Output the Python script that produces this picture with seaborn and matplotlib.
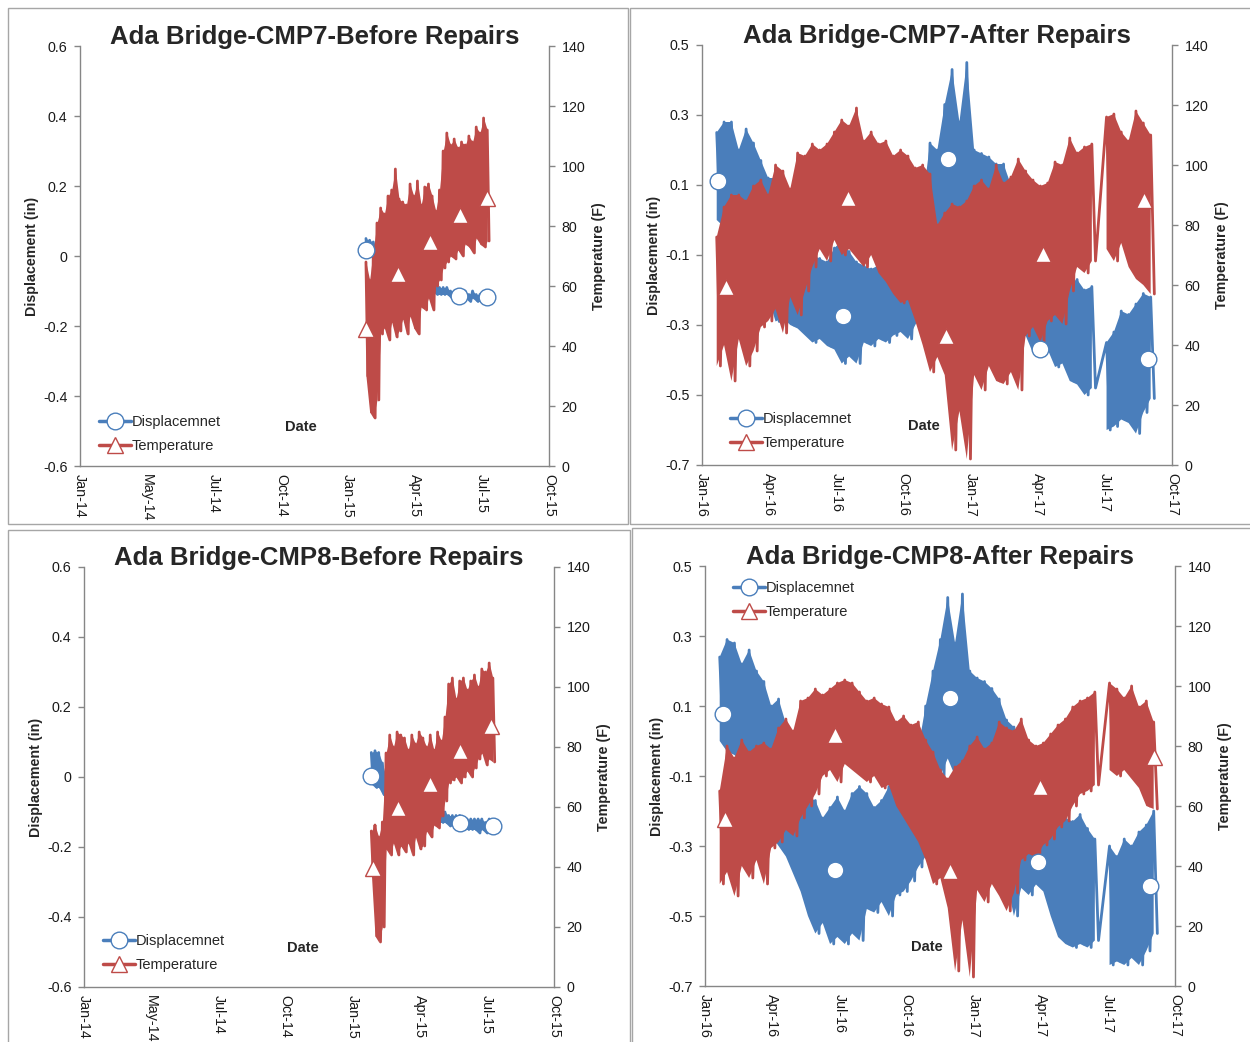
import numpy as np
import pandas as pd
import matplotlib
matplotlib.use("Agg")
import matplotlib.pyplot as plt
import matplotlib.dates as mdates
from matplotlib.lines import Line2D
from matplotlib.patches import Rectangle
import seaborn as sns

sns.set_style("white")
plt.rcParams['font.family'] = ['Liberation Sans', 'DejaVu Sans']
plt.rcParams['axes.unicode_minus'] = False

BLUE = "#4a7ebb"
RED = "#be4b48"
GRAY = "#868686"
nan = np.nan

# ---- axis labels / ticks
before_xlabels = ["Jan-14", "May-14", "Jul-14", "Oct-14", "Jan-15", "Apr-15", "Jul-15", "Oct-15"]
after_xlabels = ["Jan-16", "Apr-16", "Jul-16", "Oct-16", "Jan-17", "Apr-17", "Jul-17", "Oct-17"]
before_disp_ticks = [-0.6, -0.4, -0.2, 0, 0.2, 0.4, 0.6]
after_disp_ticks = [-0.7, -0.5, -0.3, -0.1, 0.1, 0.3, 0.5]
temp_ticks = [0, 20, 40, 60, 80, 100, 120, 140]

# ---- CMP7 before repairs (5-day bins from 2015-01-25, high / low readings)
cmp7_before_start = "2015-01-25"
cmp7_before_disp_hi = [0.05, 0.045, 0.04, 0.02, 0.0, -0.01, -0.02, -0.02, -0.03, -0.03,
                       -0.04, -0.04, -0.05, -0.05, -0.06, -0.07, -0.07, -0.08, -0.08, -0.08,
                       -0.09, -0.09, -0.09, -0.10, -0.10, -0.10, -0.10, -0.10, -0.11, -0.10,
                       -0.11, -0.11, -0.11, -0.11]
cmp7_before_disp_lo = [0.0, 0.01, 0.0, -0.03, -0.05, -0.06, -0.06, -0.07, -0.07, -0.08,
                       -0.08, -0.08, -0.09, -0.09, -0.09, -0.10, -0.10, -0.10, -0.10, -0.11,
                       -0.11, -0.11, -0.11, -0.12, -0.12, -0.12, -0.13, -0.12, -0.13, -0.12,
                       -0.13, -0.13, -0.13, -0.13]
cmp7_before_temp_hi = [68, 62, 72, 81, 86, 84, 90, 92, 99, 89,
                       88, 87, 94, 90, 95, 87, 93, 94, 90, 85,
                       92, 105, 111, 107, 109, 106, 108, 107, 110, 108,
                       113, 111, 116, 112]
cmp7_before_temp_lo = [30, 18, 16, 22, 44, 46, 42, 48, 43, 45,
                       49, 44, 50, 46, 44, 53, 52, 56, 52, 60,
                       62, 66, 68, 70, 69, 72, 70, 74, 73, 71,
                       76, 74, 73, 75]
cmp7_before_disp_mark_dates = ["2015-01-25", "2015-05-31", "2015-07-08"]
cmp7_before_disp_mark_vals = [0.017, -0.114, -0.117]
cmp7_before_temp_mark_dates = ["2015-01-25", "2015-03-09", "2015-04-22", "2015-06-02", "2015-07-08"]
cmp7_before_temp_mark_vals = [45.7, 64, 74.7, 83.7, 89.3]

# ---- CMP7 after repairs (10-day bins from 2016-01-21)
cmp7_after_start = "2016-01-21"
cmp7_after_disp_hi = [0.25, 0.28, 0.28, 0.20, 0.26, 0.22, 0.17, 0.12, 0.12, 0.10,
                      0.04, -0.14, -0.12, -0.10, -0.11, -0.12, -0.08, -0.06, -0.09, -0.12,
                      -0.13, -0.14, -0.13, -0.15, -0.18, -0.16, -0.14, -0.12, 0.05, 0.22,
                      0.20, 0.33, 0.43, 0.28, 0.45, 0.20, 0.19, 0.18, 0.16, 0.16,
                      0.10, 0.0, -0.22, -0.24, -0.25, -0.26, -0.22, -0.22, -0.18, -0.17,
                      -0.20, -0.19, nan, -0.35, -0.32, -0.26, -0.27, -0.24, -0.21, -0.22]
cmp7_after_disp_lo = [0.0, -0.02, -0.05, -0.08, -0.10, -0.14, -0.18, -0.22, -0.29, -0.28,
                      -0.30, -0.31, -0.33, -0.35, -0.34, -0.36, -0.37, -0.41, -0.39, -0.41,
                      -0.35, -0.36, -0.34, -0.35, -0.33, -0.32, -0.34, -0.30, -0.26, -0.20,
                      -0.05, 0.0, 0.02, -0.08, -0.05, -0.10, -0.12, -0.15, -0.18, -0.20,
                      -0.25, -0.38, -0.33, -0.38, -0.36, -0.37, -0.42, -0.41, -0.46, -0.47,
                      -0.50, -0.48, nan, -0.60, -0.59, -0.57, -0.58, -0.61, -0.55, -0.51]
cmp7_after_temp_hi = [76, 86, 90, 90, 88, 93, 95, 90, 100, 98,
                      92, 104, 103, 107, 105, 107, 111, 115, 113, 119,
                      108, 111, 107, 108, 103, 105, 103, 99, 100, 97,
                      80, 84, 87, 86, 88, 93, 95, 92, 100, 94,
                      96, 102, 98, 95, 93, 94, 101, 100, 109, 104,
                      106, 107, nan, 116, 117, 111, 108, 118, 114, 110]
cmp7_after_temp_lo = [33, 40, 28, 42, 33, 38, 46, 48, 52, 44,
                      56, 50, 58, 66, 72, 68, 75, 70, 72, 69,
                      66, 70, 64, 61, 57, 54, 55, 48, 40, 31,
                      36, 30, 5, 18, 2, 30, 25, 33, 28, 27,
                      31, 25, 43, 46, 41, 48, 50, 47, 58, 66,
                      64, 68, nan, 72, 68, 74, 66, 62, 60, 57]
cmp7_after_disp_mark_dates = ["2016-01-23", "2016-07-11", "2016-11-30", "2017-04-04", "2017-08-30"]
cmp7_after_disp_mark_vals = [0.111, -0.274, 0.174, -0.369, -0.397]
cmp7_after_temp_mark_dates = ["2016-02-03", "2016-07-18", "2016-11-28", "2017-04-08", "2017-08-24"]
cmp7_after_temp_mark_vals = [59.3, 89, 43, 70.3, 88.3]

# ---- CMP8 before repairs (5-day bins from 2015-01-26)
cmp8_before_start = "2015-01-26"
cmp8_before_disp_hi = [0.07, 0.075, 0.07, 0.04, 0.0, -0.02, -0.04, -0.05, -0.06, -0.07,
                       -0.07, -0.08, -0.08, -0.09, -0.09, -0.09, -0.10, -0.10, -0.10, -0.10,
                       -0.10, -0.11, -0.11, -0.11, -0.11, -0.12, -0.12, -0.12, -0.12, -0.12,
                       -0.12, -0.13, -0.12, -0.13]
cmp8_before_disp_lo = [-0.02, -0.03, -0.03, -0.05, -0.06, -0.07, -0.08, -0.09, -0.09, -0.10,
                       -0.10, -0.11, -0.11, -0.12, -0.12, -0.12, -0.12, -0.13, -0.13, -0.13,
                       -0.13, -0.14, -0.14, -0.14, -0.14, -0.15, -0.15, -0.15, -0.15, -0.16,
                       -0.15, -0.16, -0.16, -0.16]
cmp8_before_temp_hi = [52, 54, 50, 55, 78, 84, 80, 85, 84, 83,
                       79, 84, 81, 85, 83, 80, 84, 79, 85, 82,
                       90, 101, 103, 96, 102, 103, 99, 102, 104, 100,
                       106, 105, 108, 103]
cmp8_before_temp_lo = [38, 17, 15, 20, 46, 44, 48, 44, 47, 45,
                       48, 44, 50, 46, 47, 52, 50, 54, 53, 57,
                       62, 68, 69, 70, 68, 70, 72, 70, 73, 76,
                       78, 74, 76, 75]
cmp8_before_disp_mark_dates = ["2015-01-26", "2015-05-27", "2015-07-10"]
cmp8_before_disp_mark_vals = [0.003, -0.131, -0.14]
cmp8_before_temp_mark_dates = ["2015-01-28", "2015-03-03", "2015-04-15", "2015-05-27", "2015-07-07"]
cmp8_before_temp_mark_vals = [39.7, 59.7, 67.7, 78.7, 87]

# ---- CMP8 after repairs (10-day bins from 2016-01-21)
cmp8_after_start = "2016-01-21"
cmp8_after_disp_hi = [0.24, 0.29, 0.28, 0.22, 0.26, 0.20, 0.17, 0.10, 0.12, 0.05,
                      -0.08, -0.14, -0.16, -0.17, -0.22, -0.19, -0.16, -0.20, -0.15, -0.13,
                      -0.15, -0.19, -0.17, -0.13, -0.10, -0.08, -0.06, -0.02, 0.10, 0.20,
                      0.29, 0.41, 0.28, 0.42, 0.20, 0.18, 0.17, 0.15, 0.12, 0.06,
                      0.04, -0.02, -0.01, -0.04, -0.08, -0.14, -0.20, -0.22, -0.23, -0.21,
                      -0.25, -0.28, nan, -0.30, -0.33, -0.28, -0.30, -0.26, -0.24, -0.20]
cmp8_after_disp_lo = [0.0, -0.03, -0.04, -0.06, -0.10, -0.16, -0.20, -0.27, -0.30, -0.33,
                      -0.38, -0.43, -0.50, -0.55, -0.52, -0.58, -0.56, -0.58, -0.55, -0.57,
                      -0.48, -0.49, -0.46, -0.50, -0.44, -0.43, -0.40, -0.36, -0.33, -0.20,
                      -0.10, -0.05, -0.10, -0.14, -0.12, -0.20, -0.22, -0.28, -0.35, -0.40,
                      -0.50, -0.42, -0.44, -0.41, -0.43, -0.50, -0.56, -0.58, -0.59, -0.58,
                      -0.59, -0.57, nan, -0.64, -0.63, -0.64, -0.62, -0.64, -0.60, -0.55]
cmp8_after_temp_hi = [65, 80, 76, 82, 78, 80, 81, 79, 86, 89,
                      85, 95, 96, 99, 97, 99, 101, 102, 101, 98,
                      95, 96, 94, 93, 88, 90, 87, 88, 82, 78,
                      72, 69, 73, 75, 80, 83, 79, 81, 88, 86,
                      85, 89, 82, 80, 81, 84, 87, 89, 93, 95,
                      96, 98, nan, 101, 99, 96, 100, 93, 95, 88]
cmp8_after_temp_lo = [34, 38, 30, 40, 36, 42, 34, 46, 48, 52,
                      50, 56, 60, 64, 70, 72, 68, 74, 72, 70,
                      68, 70, 66, 67, 60, 56, 52, 48, 42, 34,
                      36, 26, 5, 22, 3, 32, 28, 34, 30, 25,
                      31, 42, 44, 43, 47, 49, 53, 55, 60, 64,
                      65, 67, nan, 72, 70, 72, 69, 66, 60, 59]
cmp8_after_disp_mark_dates = ["2016-01-25", "2016-06-26", "2016-11-29", "2017-03-29", "2017-08-28"]
cmp8_after_disp_mark_vals = [0.077, -0.369, 0.123, -0.346, -0.414]
cmp8_after_temp_mark_dates = ["2016-01-28", "2016-06-26", "2016-11-29", "2017-04-01", "2017-09-03"]
cmp8_after_temp_mark_vals = [55.7, 83.7, 38.3, 66.3, 76.3]


def bins(start, step_days, hi, lo):
    dates = pd.date_range(start, periods=len(hi), freq=pd.Timedelta(days=step_days))
    return pd.DataFrame({"date": dates, "hi": hi, "lo": lo})


def zigzag(b, step_days):
    # high reading at the start of each bin, low reading half a bin later
    half = pd.Timedelta(hours=12 * step_days)
    df = pd.concat([
        pd.DataFrame({"date": b["date"], "value": b["hi"], "k": 0}),
        pd.DataFrame({"date": b["date"] + half, "value": b["lo"], "k": 1}),
    ]).sort_values(["date", "k"])
    return df.dropna()


def draw_series(ax, b, step_days, color):
    ax.fill_between(b["date"], b["lo"], b["hi"], color=color, lw=0)
    sns.lineplot(data=zigzag(b, step_days), x="date", y="value", ax=ax, color=color, lw=2.0,
                 estimator=None, sort=False)


def draw_panel(fig, rect, frame, title, xlim, xlabels, disp_ticks, disp_b, temp_b, step_days,
               disp_marks, temp_marks, leg_loc, leg_anchor, date_xy):
    fig.add_artist(Rectangle((frame[0], frame[1]), frame[2], frame[3], transform=fig.transFigure,
                             fill=False, ec="#a6a6a6", lw=1))
    ax = fig.add_axes(rect)
    ax2 = ax.twinx()

    draw_series(ax, disp_b, step_days, BLUE)
    draw_series(ax2, temp_b, step_days, RED)

    # markers on top of both lines
    ax2.plot(pd.to_datetime(disp_marks[0]), disp_marks[1], ls="none", marker="o", ms=12,
             mfc="white", mec=BLUE, mew=1, transform=ax.transData, zorder=5)
    ax2.plot(pd.to_datetime(temp_marks[0]), temp_marks[1], ls="none", marker="^", ms=12,
             mfc="white", mec=RED, mew=1, zorder=5)

    x0 = mdates.date2num(pd.Timestamp(xlim[0]))
    x1 = mdates.date2num(pd.Timestamp(xlim[1]))
    ax.set_xlim(x0, x1)
    ax.set_xticks(np.linspace(x0, x1, len(xlabels)))
    ax.set_xticklabels(xlabels, rotation=-90)

    ax.set_ylim(disp_ticks[0], disp_ticks[-1])
    ax.set_yticks(disp_ticks)
    ax.set_yticklabels([f"{v:g}" for v in disp_ticks])
    ax2.set_ylim(temp_ticks[0], temp_ticks[-1])
    ax2.set_yticks(temp_ticks)

    for a in (ax, ax2):
        for s in a.spines.values():
            s.set_color(GRAY)
            s.set_linewidth(1)
        a.spines["top"].set_visible(False)
        a.tick_params(direction="out", length=4, width=1, color=GRAY, labelsize=10.3,
                      labelcolor="#1a1a1a", pad=2)
    ax.spines["right"].set_visible(False)
    ax2.spines["left"].set_visible(False)
    ax2.spines["bottom"].set_visible(False)
    ax.tick_params(axis="y", pad=5)
    ax2.tick_params(axis="y", pad=5)

    ax.set_ylabel("Displacement (in)", fontsize=10.3, fontweight="bold")
    ax.yaxis.set_label_coords(-0.088, 0.5)
    ax2.set_ylabel("Temperature (F)", fontsize=10.3, fontweight="bold")
    ax2.yaxis.set_label_coords(1.092, 0.5)
    ax.set_xlabel("Date", fontsize=10.5, fontweight="bold")
    ax.xaxis.set_label_coords(date_xy[0], date_xy[1])

    # fixed y so the title is not pushed up above the top tick labels
    ax.set_title(title, fontsize=18.5, fontweight="bold", y=1.0, pad=1.5)

    handles = [
        Line2D([0], [0], color=BLUE, lw=2.5, marker="o", ms=12, mfc="white", mec=BLUE, mew=1),
        Line2D([0], [0], color=RED, lw=2.5, marker="^", ms=12, mfc="white", mec=RED, mew=1),
    ]
    ax2.legend(handles, ["Displacemnet", "Temperature"], loc=leg_loc, bbox_to_anchor=leg_anchor,
               frameon=False, fontsize=10.5, handlelength=2.2, handletextpad=0.05,
               labelspacing=0.7, borderaxespad=0, borderpad=0)


W, H = 1250, 1042
fig = plt.figure(figsize=(W / 100, H / 100), dpi=100)


def fr(x0, y0, x1, y1):
    # pixel box (top-left origin) to figure fraction rect
    return [x0 / W, (H - y1) / H, (x1 - x0) / W, (y1 - y0) / H]


draw_panel(fig, fr(80, 46, 549, 466), fr(8, 8, 628, 524), "Ada Bridge-CMP7-Before Repairs",
           ("2014-01-01", "2015-10-01"), before_xlabels, before_disp_ticks,
           bins(cmp7_before_start, 5, cmp7_before_disp_hi, cmp7_before_disp_lo),
           bins(cmp7_before_start, 5, cmp7_before_temp_hi, cmp7_before_temp_lo), 5,
           (cmp7_before_disp_mark_dates, cmp7_before_disp_mark_vals),
           (cmp7_before_temp_mark_dates, cmp7_before_temp_mark_vals),
           "lower left", (0.04, 0.03), (0.47, 0.11))

draw_panel(fig, fr(702, 45, 1172, 465), fr(630, 8, 1252, 524), "Ada Bridge-CMP7-After Repairs",
           ("2016-01-01", "2017-10-01"), after_xlabels, after_disp_ticks,
           bins(cmp7_after_start, 10, cmp7_after_disp_hi, cmp7_after_disp_lo),
           bins(cmp7_after_start, 10, cmp7_after_temp_hi, cmp7_after_temp_lo), 10,
           (cmp7_after_disp_mark_dates, cmp7_after_disp_mark_vals),
           (cmp7_after_temp_mark_dates, cmp7_after_temp_mark_vals),
           "lower left", (0.06, 0.035), (0.472, 0.11))

draw_panel(fig, fr(84, 567, 554, 987), fr(8, 530, 630, 1044), "Ada Bridge-CMP8-Before Repairs",
           ("2014-01-01", "2015-10-01"), before_xlabels, before_disp_ticks,
           bins(cmp8_before_start, 5, cmp8_before_disp_hi, cmp8_before_disp_lo),
           bins(cmp8_before_start, 5, cmp8_before_temp_hi, cmp8_before_temp_lo), 5,
           (cmp8_before_disp_mark_dates, cmp8_before_disp_mark_vals),
           (cmp8_before_temp_mark_dates, cmp8_before_temp_mark_vals),
           "lower left", (0.04, 0.035), (0.466, 0.11))

draw_panel(fig, fr(705, 566, 1175, 986), fr(632, 528, 1252, 1044), "Ada Bridge-CMP8-After Repairs",
           ("2016-01-01", "2017-10-01"), after_xlabels, after_disp_ticks,
           bins(cmp8_after_start, 10, cmp8_after_disp_hi, cmp8_after_disp_lo),
           bins(cmp8_after_start, 10, cmp8_after_temp_hi, cmp8_after_temp_lo), 10,
           (cmp8_after_disp_mark_dates, cmp8_after_disp_mark_vals),
           (cmp8_after_temp_mark_dates, cmp8_after_temp_mark_vals),
           "upper left", (0.06, 0.965), (0.472, 0.11))

fig.savefig("out.png", dpi=100)
